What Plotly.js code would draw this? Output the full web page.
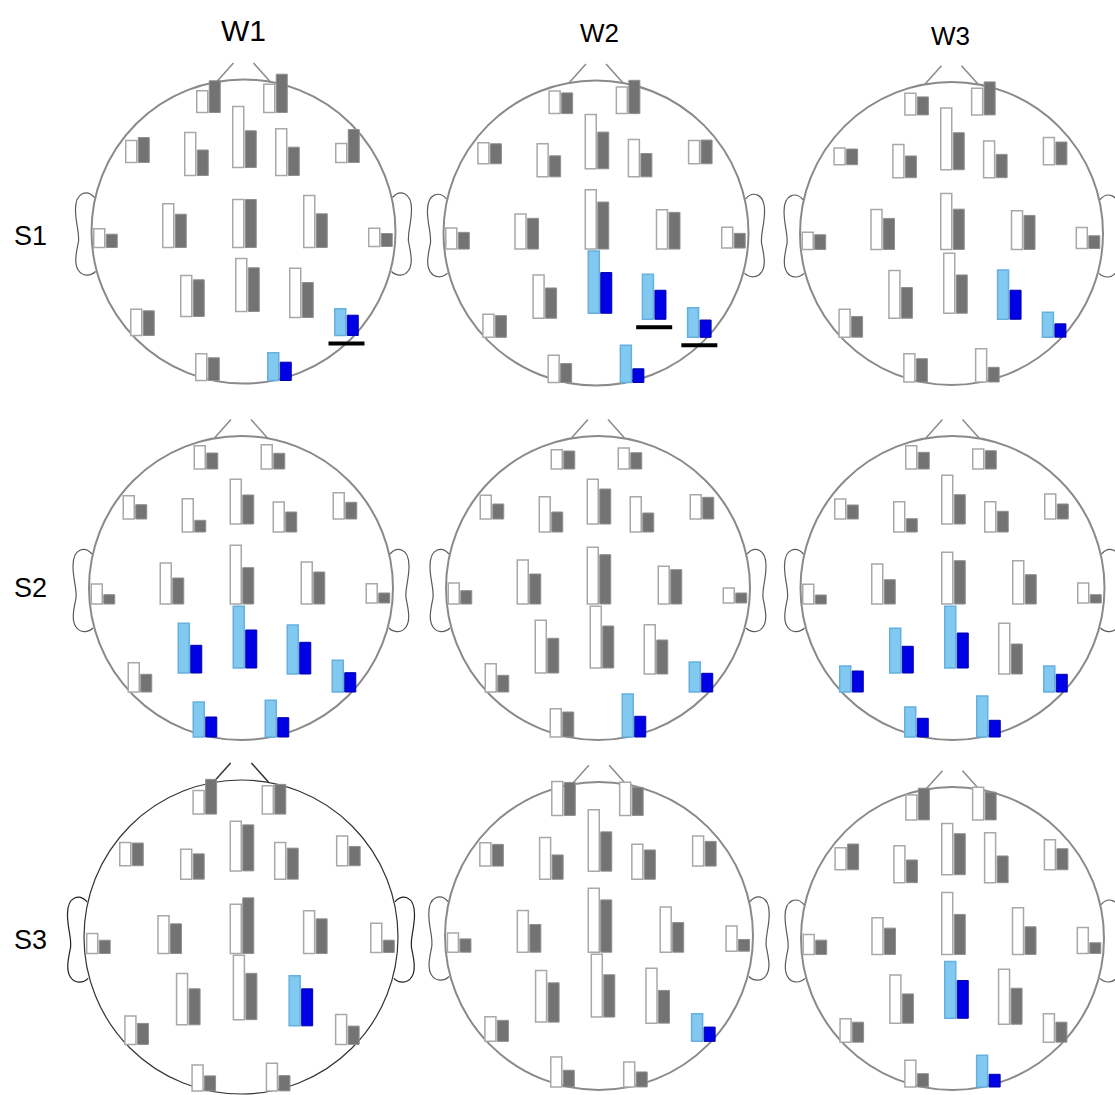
<!DOCTYPE html>
<html>
<head>
<meta charset="utf-8">
<script src="https://cdn.plot.ly/plotly-3.0.1.min.js"></script>
<style>
  html, body { margin: 0; padding: 0; background: #ffffff; }
  #chart { width: 1115px; height: 1095px; }
</style>
</head>
<body>
<div id="chart"></div>
<script>
// ---------------- DATA ----------------
const columnLabels = ['W1', 'W2', 'W3'];
const rowLabels = ['S1', 'S2', 'S3'];
const electrodes = ['Fp1','Fp2','F7','F3','Fz','F4','F8','T3','C3','Cz','C4','T4','T5','P3','Pz','P4','T6','O1','O2'];

// open (white / light blue) bar values and filled (grey / blue) bar values per head
const S1W1_open = [21.7, 28.3, 22.0, 43.0, 61.0, 46.7, 19.0, 18.7, 43.7, 48.0, 52.0, 18.3, 26.3, 41.0, 53.0, 49.3, 26.7, 26.7, 27.7];
const S1W1_fill = [31.7, 38.3, 25.0, 25.5, 36.7, 28.3, 33.0, 13.3, 33.3, 48.0, 33.7, 13.0, 24.7, 36.7, 43.7, 35.0, 20.3, 22.7, 18.3];
const S1W1_sig = ['T6', 'O2'];
const S1W1_marked = ['T6'];

const S1W2_open = [22.7, 26.7, 21.0, 33.0, 54.3, 37.3, 23.3, 21.0, 35.0, 59.3, 39.3, 20.7, 23.0, 43.3, 62.3, 45.0, 29.7, 27.3, 37.3];
const S1W2_fill = [20.7, 33.3, 20.0, 21.0, 36.7, 23.3, 23.7, 16.7, 30.7, 47.0, 36.7, 14.7, 21.7, 30.3, 40.7, 29.0, 17.3, 19.0, 13.7];
const S1W2_sig = ['Pz', 'P4', 'T6', 'O2'];
const S1W2_marked = ['P4', 'T6'];

const S1W3_open = [21.7, 26.7, 16.7, 33.3, 61.7, 36.7, 27.3, 17.3, 40.0, 56.0, 38.7, 21.0, 28.0, 47.7, 60.0, 49.3, 25.0, 28.3, 33.3];
const S1W3_fill = [18.0, 33.0, 15.7, 21.7, 37.0, 23.3, 22.7, 14.7, 31.0, 40.3, 34.0, 12.7, 20.7, 30.7, 38.3, 29.0, 13.3, 23.3, 14.7];
const S1W3_sig = ['P4', 'T6'];
const S1W3_marked = [];

const S2W1_open = [23.3, 24.3, 23.3, 33.3, 44.7, 30.0, 26.3, 20.0, 41.0, 58.7, 42.0, 19.3, 29.3, 49.7, 61.7, 49.0, 31.7, 35.0, 36.7];
const S2W1_fill = [16.0, 15.7, 14.3, 11.7, 29.0, 20.0, 16.7, 9.3, 26.0, 36.3, 32.0, 10.0, 17.7, 27.7, 38.0, 31.7, 19.3, 20.0, 19.3];
const S2W1_sig = ['P3', 'Pz', 'P4', 'T6', 'O1', 'O2'];
const S2W1_marked = [];

const S2W2_open = [19.3, 21.0, 23.7, 35.3, 44.7, 35.3, 24.3, 21.0, 44.0, 56.7, 37.7, 15.0, 28.3, 52.7, 61.7, 49.3, 30.0, 28.3, 43.0];
const S2W2_fill = [18.0, 16.3, 15.0, 20.0, 35.0, 19.0, 21.7, 13.3, 30.0, 49.3, 34.3, 10.0, 16.7, 34.7, 42.0, 34.0, 18.7, 25.0, 20.7];
const S2W2_sig = ['T6', 'O2'];
const S2W2_marked = [];

const S2W3_open = [23.3, 20.0, 20.0, 30.3, 48.7, 30.3, 25.0, 19.7, 40.0, 51.7, 43.3, 20.0, 26.0, 44.7, 61.7, 50.7, 26.0, 30.0, 41.0];
const S2W3_fill = [16.7, 18.3, 14.0, 13.3, 29.3, 20.7, 15.0, 9.0, 24.3, 43.3, 29.3, 8.3, 21.0, 26.7, 35.0, 30.0, 17.7, 18.7, 16.7];
const S2W3_sig = ['T5', 'P3', 'Pz', 'T6', 'O1', 'O2'];
const S2W3_marked = [];

const S3W1_open = [23.7, 28.3, 23.3, 30.0, 49.7, 36.7, 29.7, 20.0, 37.7, 49.3, 42.7, 29.3, 28.3, 51.3, 64.3, 50.0, 30.0, 26.0, 27.7];
const S3W1_fill = [34.7, 29.7, 22.7, 25.3, 46.0, 31.0, 19.3, 13.3, 29.7, 55.7, 34.7, 12.3, 21.0, 36.0, 46.3, 37.0, 18.3, 15.0, 15.3];
const S3W1_sig = ['P4'];
const S3W1_marked = [];

const S3W2_open = [34.0, 33.3, 23.3, 41.7, 61.3, 35.0, 30.0, 19.3, 41.7, 64.0, 45.3, 25.3, 24.7, 51.7, 62.7, 55.0, 27.7, 30.0, 25.0];
const S3W2_fill = [33.0, 28.0, 21.7, 24.3, 39.3, 29.3, 24.7, 13.3, 27.7, 52.3, 29.7, 11.7, 21.0, 39.3, 42.3, 32.7, 14.3, 16.7, 15.0];
const S3W2_sig = ['T6'];
const S3W2_marked = [];

const S3W3_open = [25.0, 32.7, 22.0, 37.0, 51.3, 50.0, 30.0, 20.0, 36.7, 62.0, 46.7, 26.0, 23.3, 48.3, 56.7, 55.0, 28.3, 26.7, 31.7];
const S3W3_fill = [31.7, 27.7, 25.7, 22.7, 41.0, 26.7, 21.0, 14.3, 26.3, 40.0, 27.7, 10.7, 20.0, 29.3, 37.7, 36.0, 20.0, 13.3, 12.7];
const S3W3_sig = ['Pz', 'O2'];
const S3W3_marked = [];

// ---------------- LAYOUT GEOMETRY (positions / styles, not data) ----------------
const W = 1115, H = 1095;
// electrode placement on a head of radius 152 px (x right, y down from head centre)
const ELEC_POS = {
  Fp1: [-35, -119], Fp2: [32, -119],
  F7: [-106, -69], F3: [-47, -56], Fz: [1, -64], F4: [44, -56], F8: [104, -69],
  T3: [-138, 16], C3: [-69, 16], Cz: [1, 16], C4: [72, 16], T4: [137, 15],
  T5: [-101, 104], P3: [-51, 85], Pz: [4, 80], P4: [58, 86], T6: [103, 104],
  O1: [-36, 149], O2: [36, 149]
};
const REF_R = 152;
// head centres (px) and radii for each [row][col]
const HEADS = [
  [{cx: 243.5, cy: 231.5, r: 152}, {cx: 596, cy: 233, r: 152.5}, {cx: 951.5, cy: 233.5, r: 151.5}],
  [{cx: 241, cy: 588, r: 152}, {cx: 598, cy: 588, r: 152}, {cx: 952.5, cy: 588, r: 152}],
  [{cx: 241, cy: 937, r: 157}, {cx: 599, cy: 936, r: 154}, {cx: 952.5, cy: 938.5, r: 151.5}]
];
const HEAD_DATA = [
  [[S1W1_open, S1W1_fill, S1W1_sig, S1W1_marked], [S1W2_open, S1W2_fill, S1W2_sig, S1W2_marked], [S1W3_open, S1W3_fill, S1W3_sig, S1W3_marked]],
  [[S2W1_open, S2W1_fill, S2W1_sig, S2W1_marked], [S2W2_open, S2W2_fill, S2W2_sig, S2W2_marked], [S2W3_open, S2W3_fill, S2W3_sig, S2W3_marked]],
  [[S3W1_open, S3W1_fill, S3W1_sig, S3W1_marked], [S3W2_open, S3W2_fill, S3W2_sig, S3W2_marked], [S3W3_open, S3W3_fill, S3W3_sig, S3W3_marked]]
];
const BAR_W = 11, BAR_GAP = 1.5, HALF = 180;

const COL = {
  openFill: '#ffffff', openLine: '#a8a8a8',
  fillFill: '#737373', fillLine: '#8f8f8f',
  sigOpenFill: '#82c9f2', sigOpenLine: '#66b0de',
  sigFillFill: '#0000e6', sigFillLine: '#0000a8',
  head: '#8a8a8a', ear: '#5a5a5a'
};

const traces = [];
const layout = {
  width: W, height: H,
  margin: {l: 0, r: 0, t: 0, b: 0},
  paper_bgcolor: '#ffffff', plot_bgcolor: 'rgba(0,0,0,0)',
  showlegend: false, barmode: 'overlay',
  shapes: [], annotations: [],
  font: {family: 'Liberation Sans Narrow, Liberation Sans, Arial, sans-serif', color: '#000'}
};

function earPath(side, s) {
  // ear outline as an SVG path in data coords (y up); side = -1 left, +1 right
  const pts = [
    ['M', [-149, -34]],
    ['C', [-156, -42], [-168, -40], [-168, -22]],
    ['C', [-168, -8], [-164, 0], [-165, 10]],
    ['C', [-167, 20], [-170, 32], [-165, 39]],
    ['C', [-161, 45], [-153, 45], [-148, 40]]
  ];
  return pts.map(([cmd, ...ps]) => cmd + ' ' + ps.map(p => ((p[0] * side * -1) * s).toFixed(2) + ',' + (-p[1] * s).toFixed(2)).join(' ')).join(' ');
}

let k = 0;
for (let ri = 0; ri < 3; ri++) {
  for (let ci = 0; ci < 3; ci++) {
    k++;
    const g = HEADS[ri][ci];
    const [openV, fillV, sig, marked] = HEAD_DATA[ri][ci];
    const s = g.r / REF_R;
    const xa = 'xaxis' + (k === 1 ? '' : k), ya = 'yaxis' + (k === 1 ? '' : k);
    const xr = 'x' + (k === 1 ? '' : k), yr = 'y' + (k === 1 ? '' : k);
    const L = Math.max(0, g.cx - HALF), R = Math.min(W, g.cx + HALF);
    const T = Math.max(0, g.cy - HALF), B = Math.min(H, g.cy + HALF);
    layout[xa] = {domain: [L / W, R / W], range: [L - g.cx, R - g.cx], visible: false, fixedrange: true};
    layout[ya] = {domain: [1 - B / H, 1 - T / H], range: [g.cy - B, g.cy - T], visible: false, fixedrange: true};

    // head outline
    const headColor = (ri === 2 && ci === 0) ? '#333333' : COL.head;
    const headW = (ri === 2 && ci === 0) ? 1.2 : 2;
    layout.shapes.push({type: 'circle', xref: xr, yref: yr, x0: -g.r, x1: g.r, y0: -g.r, y1: g.r,
      line: {color: headColor, width: headW}, layer: 'below'});
    // nose
    layout.shapes.push({type: 'line', xref: xr, yref: yr, x0: -0.176 * g.r, y0: 0.985 * g.r, x1: -0.066 * g.r, y1: 1.108 * g.r,
      line: {color: headColor, width: 1.5}, layer: 'below'});
    layout.shapes.push({type: 'line', xref: xr, yref: yr, x0: 0.176 * g.r, y0: 0.985 * g.r, x1: 0.066 * g.r, y1: 1.108 * g.r,
      line: {color: headColor, width: 1.5}, layer: 'below'});
    // ears
    [-1, 1].forEach(side => layout.shapes.push({type: 'path', xref: xr, yref: yr, path: earPath(side, s),
      line: {color: (ri === 2 && ci === 0) ? '#222' : COL.ear, width: 1.2}, layer: 'below'}));

    // bars
    const ex = electrodes.map(e => ELEC_POS[e][0] * s);
    const ey = electrodes.map(e => -ELEC_POS[e][1] * s);
    const isSig = electrodes.map(e => sig.includes(e));
    traces.push({
      type: 'bar', xaxis: xr, yaxis: yr, name: columnLabels[ci] + ' ' + rowLabels[ri] + ' open',
      x: ex.map(v => v - BAR_GAP / 2 - BAR_W / 2), y: openV, base: ey, width: BAR_W,
      hovertext: electrodes, hoverinfo: 'text+y', textposition: 'none',
      marker: {color: isSig.map(b => b ? COL.sigOpenFill : COL.openFill),
               line: {color: isSig.map(b => b ? COL.sigOpenLine : COL.openLine), width: 1.5}}
    });
    traces.push({
      type: 'bar', xaxis: xr, yaxis: yr, name: columnLabels[ci] + ' ' + rowLabels[ri] + ' filled',
      x: ex.map(v => v + BAR_GAP / 2 + BAR_W / 2), y: fillV, base: ey, width: BAR_W,
      hovertext: electrodes, hoverinfo: 'text+y', textposition: 'none',
      marker: {color: isSig.map(b => b ? COL.sigFillFill : COL.fillFill),
               line: {color: isSig.map(b => b ? COL.sigFillLine : COL.fillLine), width: 1}}
    });
    // underline markers
    if (marked.length) {
      const ux = [], uy = [];
      marked.forEach(e => {
        const i = electrodes.indexOf(e);
        ux.push(ex[i] - 18, ex[i] + 18, null);
        uy.push(ey[i] - 8, ey[i] - 8, null);
      });
      traces.push({type: 'scatter', mode: 'lines', xaxis: xr, yaxis: yr, x: ux, y: uy,
        line: {color: '#000000', width: 4}, hoverinfo: 'skip'});
    }
  }
}

// column & row labels
const colLabelPos = [[243, 30, 30], [599, 33, 26], [950, 36, 26]];
columnLabels.forEach((t, i) => layout.annotations.push({
  text: t, xref: 'paper', yref: 'paper', x: colLabelPos[i][0] / W, y: 1 - colLabelPos[i][1] / H,
  xanchor: 'center', yanchor: 'middle', showarrow: false, font: {size: colLabelPos[i][2], color: '#000'}
}));
const rowLabelPos = [[30, 236], [30, 588], [30, 940]];
rowLabels.forEach((t, i) => layout.annotations.push({
  text: t, xref: 'paper', yref: 'paper', x: rowLabelPos[i][0] / W, y: 1 - rowLabelPos[i][1] / H,
  xanchor: 'center', yanchor: 'middle', showarrow: false, font: {size: 27, color: '#000'}
}));

Plotly.newPlot('chart', traces, layout, {displayModeBar: false, staticPlot: true});
</script>
</body>
</html>
